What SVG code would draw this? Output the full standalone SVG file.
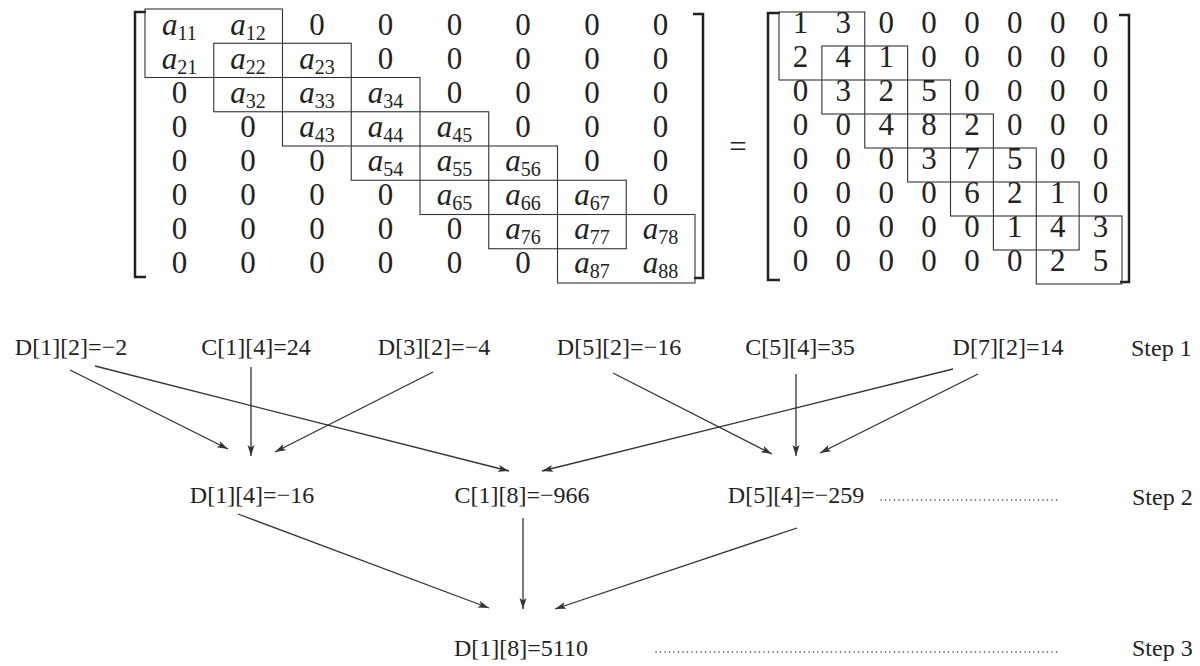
<svg xmlns="http://www.w3.org/2000/svg" width="1200" height="666" viewBox="0 0 1200 666">
  <defs>
    <marker id="arrow" markerUnits="userSpaceOnUse" markerWidth="12" markerHeight="8" refX="11" refY="3.5" orient="auto">
      <path d="M0,0 L11,3.5 L0,7 L2.5,3.5 z" fill="#333"/>
    </marker>
    <style>
      text { font-family: "Liberation Serif", "Times New Roman", serif; fill: #222; }
      .m { font-size: 31px; text-anchor: middle; }
      .a { font-style: italic; }
      .sub { font-size: 20px; font-style: normal; }
      .bracket { fill: none; stroke: #222; stroke-width: 2.5; }
      .band { fill: none; stroke: #333; stroke-width: 1.1; }
      .lbl { font-size: 24px; text-anchor: middle; }
      .step { font-size: 24px; }
      .edge { fill: none; stroke: #333; stroke-width: 1.3; marker-end: url(#arrow); }
      .dots { fill: none; stroke: #333; stroke-width: 1.4; stroke-linecap: round; stroke-dasharray: 0.1 4.4; }
    </style>
  </defs>
  <rect width="1200" height="666" fill="#fff"/>

  <!-- symbolic tridiagonal matrix with overlapping 2x2 blocks -->
  <g id="matrix-symbolic">
    <path class="bracket" d="M146,12 H135 V277 H146"/>
    <path class="bracket" d="M693,14 H703 V278 H694"/>
    <rect class="band" x="145" y="9" width="137.5" height="68.5"/>
    <rect class="band" x="213.75" y="43.25" width="137.5" height="68.5"/>
    <rect class="band" x="282.5" y="77.5" width="137.5" height="68.5"/>
    <rect class="band" x="351.25" y="111.75" width="137.5" height="68.5"/>
    <rect class="band" x="420" y="146" width="137.5" height="68.5"/>
    <rect class="band" x="488.75" y="180.25" width="137.5" height="68.5"/>
    <rect class="band" x="557.5" y="214.5" width="137.5" height="68.5"/>
    <!-- zero entries outside the band -->
    <text class="m" x="316.9" y="35">0</text><text class="m" x="385.6" y="35">0</text><text class="m" x="454.4" y="35">0</text><text class="m" x="523.1" y="35">0</text><text class="m" x="591.9" y="35">0</text><text class="m" x="660.6" y="35">0</text>
    <text class="m" x="385.6" y="69">0</text><text class="m" x="454.4" y="69">0</text><text class="m" x="523.1" y="69">0</text><text class="m" x="591.9" y="69">0</text><text class="m" x="660.6" y="69">0</text>
    <text class="m" x="179.4" y="103">0</text><text class="m" x="454.4" y="103">0</text><text class="m" x="523.1" y="103">0</text><text class="m" x="591.9" y="103">0</text><text class="m" x="660.6" y="103">0</text>
    <text class="m" x="179.4" y="137">0</text><text class="m" x="248.1" y="137">0</text><text class="m" x="523.1" y="137">0</text><text class="m" x="591.9" y="137">0</text><text class="m" x="660.6" y="137">0</text>
    <text class="m" x="179.4" y="171">0</text><text class="m" x="248.1" y="171">0</text><text class="m" x="316.9" y="171">0</text><text class="m" x="591.9" y="171">0</text><text class="m" x="660.6" y="171">0</text>
    <text class="m" x="179.4" y="205">0</text><text class="m" x="248.1" y="205">0</text><text class="m" x="316.9" y="205">0</text><text class="m" x="385.6" y="205">0</text><text class="m" x="660.6" y="205">0</text>
    <text class="m" x="179.4" y="239">0</text><text class="m" x="248.1" y="239">0</text><text class="m" x="316.9" y="239">0</text><text class="m" x="385.6" y="239">0</text><text class="m" x="454.4" y="239">0</text>
    <text class="m" x="179.4" y="273">0</text><text class="m" x="248.1" y="273">0</text><text class="m" x="316.9" y="273">0</text><text class="m" x="385.6" y="273">0</text><text class="m" x="454.4" y="273">0</text><text class="m" x="523.1" y="273">0</text>
    <!-- band entries a_ij -->
    <text class="m a" x="179.4" y="35">a<tspan class="sub" dy="5">11</tspan></text>
    <text class="m a" x="248.1" y="35">a<tspan class="sub" dy="5">12</tspan></text>
    <text class="m a" x="179.4" y="69">a<tspan class="sub" dy="5">21</tspan></text>
    <text class="m a" x="248.1" y="69">a<tspan class="sub" dy="5">22</tspan></text>
    <text class="m a" x="316.9" y="69">a<tspan class="sub" dy="5">23</tspan></text>
    <text class="m a" x="248.1" y="103">a<tspan class="sub" dy="5">32</tspan></text>
    <text class="m a" x="316.9" y="103">a<tspan class="sub" dy="5">33</tspan></text>
    <text class="m a" x="385.6" y="103">a<tspan class="sub" dy="5">34</tspan></text>
    <text class="m a" x="316.9" y="137">a<tspan class="sub" dy="5">43</tspan></text>
    <text class="m a" x="385.6" y="137">a<tspan class="sub" dy="5">44</tspan></text>
    <text class="m a" x="454.4" y="137">a<tspan class="sub" dy="5">45</tspan></text>
    <text class="m a" x="385.6" y="171">a<tspan class="sub" dy="5">54</tspan></text>
    <text class="m a" x="454.4" y="171">a<tspan class="sub" dy="5">55</tspan></text>
    <text class="m a" x="523.1" y="171">a<tspan class="sub" dy="5">56</tspan></text>
    <text class="m a" x="454.4" y="205">a<tspan class="sub" dy="5">65</tspan></text>
    <text class="m a" x="523.1" y="205">a<tspan class="sub" dy="5">66</tspan></text>
    <text class="m a" x="591.9" y="205">a<tspan class="sub" dy="5">67</tspan></text>
    <text class="m a" x="523.1" y="239">a<tspan class="sub" dy="5">76</tspan></text>
    <text class="m a" x="591.9" y="239">a<tspan class="sub" dy="5">77</tspan></text>
    <text class="m a" x="660.6" y="239">a<tspan class="sub" dy="5">78</tspan></text>
    <text class="m a" x="591.9" y="273">a<tspan class="sub" dy="5">87</tspan></text>
    <text class="m a" x="660.6" y="273">a<tspan class="sub" dy="5">88</tspan></text>
  </g>

  <g id="equals">
    <text class="m" x="738" y="157">=</text>
  </g>

  <!-- numeric matrix -->
  <g id="matrix-numeric">
    <path class="bracket" d="M780,13 H768 V280 H780"/>
    <path class="bracket" d="M1119,15 H1129 V282 H1120"/>
    <rect class="band" x="779" y="12" width="85.75" height="68"/>
    <rect class="band" x="821.875" y="46" width="85.75" height="68"/>
    <rect class="band" x="864.75" y="80" width="85.75" height="68"/>
    <rect class="band" x="907.625" y="114" width="85.75" height="68"/>
    <rect class="band" x="950.5" y="148" width="85.75" height="68"/>
    <rect class="band" x="993.375" y="182" width="85.75" height="68"/>
    <rect class="band" x="1036.25" y="216" width="85.75" height="68"/>
    <text class="m" x="800.4 843.3 886.2 929.1 971.9 1014.8 1057.7 1100.6" y="33">13000000</text>
    <text class="m" x="800.4 843.3 886.2 929.1 971.9 1014.8 1057.7 1100.6" y="67">24100000</text>
    <text class="m" x="800.4 843.3 886.2 929.1 971.9 1014.8 1057.7 1100.6" y="101">03250000</text>
    <text class="m" x="800.4 843.3 886.2 929.1 971.9 1014.8 1057.7 1100.6" y="135">00482000</text>
    <text class="m" x="800.4 843.3 886.2 929.1 971.9 1014.8 1057.7 1100.6" y="169">00037500</text>
    <text class="m" x="800.4 843.3 886.2 929.1 971.9 1014.8 1057.7 1100.6" y="203">00006210</text>
    <text class="m" x="800.4 843.3 886.2 929.1 971.9 1014.8 1057.7 1100.6" y="237">00000143</text>
    <text class="m" x="800.4 843.3 886.2 929.1 971.9 1014.8 1057.7 1100.6" y="271">00000025</text>
  </g>

  <!-- reduction tree connectors -->
  <g id="connectors">
    <line class="edge" x1="70" y1="370" x2="228" y2="449"/>
    <line class="edge" x1="95" y1="366" x2="509" y2="471"/>
    <line class="edge" x1="251" y1="367" x2="251" y2="456"/>
    <line class="edge" x1="433" y1="372" x2="275" y2="452"/>
    <line class="edge" x1="613" y1="373" x2="772" y2="454"/>
    <line class="edge" x1="796" y1="374" x2="796" y2="456"/>
    <line class="edge" x1="953" y1="369" x2="542" y2="471"/>
    <line class="edge" x1="978" y1="374" x2="820" y2="453"/>
    <line class="edge" x1="238" y1="514" x2="489" y2="608"/>
    <line class="edge" x1="523" y1="518" x2="523" y2="609"/>
    <line class="edge" x1="797" y1="528" x2="555" y2="609"/>
    <line class="dots" x1="881" y1="500" x2="1058" y2="500"/>
    <line class="dots" x1="656" y1="652" x2="1058" y2="652"/>
  </g>

  <!-- step 1 -->
  <g id="node-d12"><text class="lbl" x="71" y="355">D[1][2]=−2</text></g>
  <g id="node-c14"><text class="lbl" x="256" y="355">C[1][4]=24</text></g>
  <g id="node-d32"><text class="lbl" x="434" y="355">D[3][2]=−4</text></g>
  <g id="node-d52"><text class="lbl" x="619" y="355">D[5][2]=−16</text></g>
  <g id="node-c54"><text class="lbl" x="800" y="355">C[5][4]=35</text></g>
  <g id="node-d72"><text class="lbl" x="1008" y="355">D[7][2]=14</text></g>
  <g id="step-1"><text class="step" x="1131" y="356">Step 1</text></g>

  <!-- step 2 -->
  <g id="node-d14"><text class="lbl" x="252" y="503">D[1][4]=−16</text></g>
  <g id="node-c18"><text class="lbl" x="522" y="503">C[1][8]=−966</text></g>
  <g id="node-d54"><text class="lbl" x="796" y="503">D[5][4]=−259</text></g>
  <g id="step-2"><text class="step" x="1132" y="505">Step 2</text></g>

  <!-- step 3 -->
  <g id="node-d18"><text class="lbl" x="521" y="656">D[1][8]=5110</text></g>
  <g id="step-3"><text class="step" x="1132" y="656">Step 3</text></g>
</svg>
